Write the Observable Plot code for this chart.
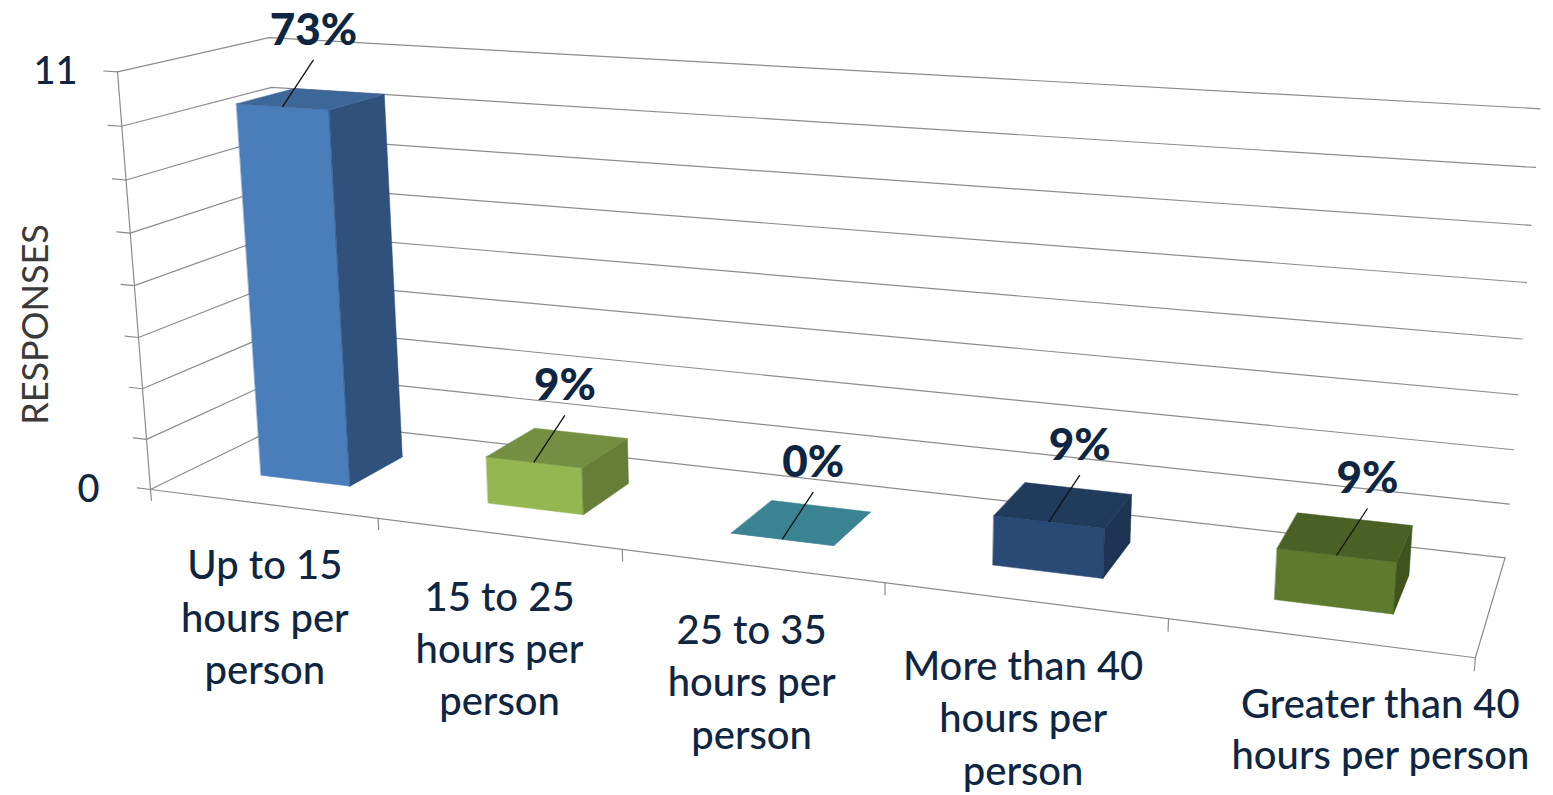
<!DOCTYPE html>
<html>
<head>
<meta charset="utf-8">
<script src="https://cdn.jsdelivr.net/npm/d3@7"></script>
<script src="https://cdn.jsdelivr.net/npm/@observablehq/plot@0.6"></script>
<style>
  html, body { margin: 0; padding: 0; background: #ffffff; }
  #chart svg { display: block; }
</style>
</head>
<body>
<div id="chart"></div>
<script>
// ---------------- data ----------------
const categories = [
  "Up to 15\nhours per\nperson",
  "15 to 25\nhours per\nperson",
  "25 to 35\nhours per\nperson",
  "More than 40\nhours per\nperson",
  "Greater than 40\nhours per person"
];
const responses = [10, 1.25, 0, 1.25, 1.25];
const yGridValues = [0, 1.375, 2.75, 4.125, 5.5, 6.875, 8.25, 9.625, 11];
const yLabelValues = [0, 11];
const yLabelTexts = ["0", "11"];
const yTitle = "RESPONSES";

// ---------------- styles ----------------
const frontColors = ["#4a7ebb", "#94b752", "#3a8493", "#294a74", "#5e7a2e"];
const sideColors  = ["#31517d", "#667e38", "#2a6470", "#1d3453", "#3f531f"];
const topColors   = ["#3d6699", "#748f41", "#3a8391", "#213b5c", "#4a6125"];
const gridColor = "#8c8c8c";
const textColor = "#0f2642";
const fontFamily = "Lato, 'Open Sans', sans-serif";

// ---------------- 3D perspective camera ----------------
// world: X = category axis (0..n), Y = value, Z = depth (0 front, 1 back wall)
const camera = {
  origin: [150, 489],
  vx: [-6300, -330], kx: -0.1704 / 5,
  vy: [834, 9150],   ky: -0.046 / 11,
  vz: [1760, -300],  kz: 0.0967
};
function project(X, Y, Z) {
  const a = camera.kx * X, b = camera.ky * Y, c = camera.kz * Z;
  const w = 1 + a + b + c;
  return [
    (a * camera.vx[0] + b * camera.vy[0] + c * camera.vz[0] + camera.origin[0]) / w,
    (a * camera.vx[1] + b * camera.vy[1] + c * camera.vz[1] + camera.origin[1]) / w
  ];
}
const nCat = categories.length;
const gap = 0.3;           // gap on each side of a bar within its slot
const z0 = 0.3, z1 = 0.7;  // bar depth

// ---------------- geometry built from data ----------------
const wallLines = [];
yGridValues.forEach((v, k) => {
  [[0, v, 0], [0, v, 1], [nCat, v, 1]].forEach(p => {
    const [x, y] = project(...p);
    wallLines.push({id: "g" + k, x, y});
  });
});
const axisLines = [];
[[0, 0, 0], [0, yGridValues[yGridValues.length - 1], 0]].forEach(p => {
  const [x, y] = project(...p); axisLines.push({id: "axis", x, y});
});
[[0, 0, 0], [nCat, 0, 0], [nCat, 0, 1]].forEach(p => {
  const [x, y] = project(...p); axisLines.push({id: "floor", x, y});
});
yGridValues.forEach((v, k) => {
  [[0, v, 0], [-0.06, v, 0]].forEach(p => {
    const [x, y] = project(...p); axisLines.push({id: "yt" + k, x, y});
  });
});
d3.range(nCat + 1).forEach(k => {
  [[k, 0, 0], [k, -0.3, 0]].forEach(p => {
    const [x, y] = project(...p); axisLines.push({id: "xt" + k, x, y});
  });
});

const faces = [];
responses.forEach((v, i) => {
  const x0 = i + gap, x1 = i + 1 - gap;
  const defs = [
    ["front", frontColors[i], [[x0, 0, z0], [x1, 0, z0], [x1, v, z0], [x0, v, z0]]],
    ["side",  sideColors[i],  [[x1, 0, z0], [x1, 0, z1], [x1, v, z1], [x1, v, z0]]],
    ["top",   topColors[i],   [[x0, v, z0], [x1, v, z0], [x1, v, z1], [x0, v, z1]]]
  ];
  defs.forEach(([face, color, pts]) => {
    pts.forEach(p => {
      const [x, y] = project(...p);
      faces.push({id: i + face, color, x, y});
    });
  });
});

const total = d3.sum(responses);
const pct = d3.format(".0%");
const bars = responses.map((v, i) => {
  const [ax, ay] = project(i + 0.5, v, z0);
  return {category: categories[i], value: v, label: pct(v / total), ax, ay};
});
const catLabels = categories.map((c, i) => {
  const [x, y] = project(i + 0.5, -1.05, 0);
  return {text: c, x, y, last: i === nCat - 1};
});
const yLabels = yLabelValues.map((v, i) => {
  const [x, y] = project(0, v, 0);
  return {text: yLabelTexts[i], x, y};
});

// ---------------- plot ----------------
const chart = Plot.plot({
  width: 1553,
  height: 795,
  margin: 0,
  x: {type: "identity", axis: null},
  y: {type: "identity", axis: null},
  color: {type: "identity"},
  style: {background: "#ffffff", overflow: "visible"},
  marks: [
    Plot.line(wallLines, {x: "x", y: "y", z: "id", stroke: gridColor, strokeWidth: 1.2}),
    Plot.line(axisLines, {x: "x", y: "y", z: "id", stroke: gridColor, strokeWidth: 1.2}),
    Plot.line(faces, {x: "x", y: "y", z: "id", fill: "color", stroke: "color", strokeWidth: 0.5, curve: "linear-closed"}),
    Plot.link(bars, {x1: "ax", y1: "ay", x2: d => d.ax + 31, y2: d => d.ay - 47, stroke: "#111111", strokeWidth: 1.3}),
    Plot.text(bars, {x: d => d.ax + 31, y: d => d.ay - 62, text: "label", lineAnchor: "bottom", textAnchor: "middle",
      fill: textColor, fontFamily, fontWeight: 900, fontSize: 44}),
    Plot.text(catLabels.filter(d => !d.last), {x: "x", y: "y", text: "text", lineAnchor: "top", textAnchor: "middle",
      lineHeight: 1.31, fill: textColor, fontFamily, fontWeight: 500, fontSize: 40}),
    Plot.text(catLabels.filter(d => d.last), {x: "x", y: "y", dx: 64, text: "text", lineAnchor: "top", textAnchor: "middle",
      lineHeight: 1.27, fill: textColor, fontFamily, fontWeight: 500, fontSize: 40}),
    Plot.text(yLabels, {x: "x", y: "y", dx: -62, text: "text", textAnchor: "middle", lineAnchor: "middle",
      fill: textColor, fontFamily, fontWeight: 500, fontSize: 38}),
    Plot.text([yTitle], {frameAnchor: "top-left", dx: 36, dy: 324, text: d => d, rotate: -90, textAnchor: "middle",
      lineAnchor: "middle", fill: "#3a3a3a", fontFamily, fontSize: 36})
  ]
});
document.getElementById("chart").append(chart);
</script>
</body>
</html>
